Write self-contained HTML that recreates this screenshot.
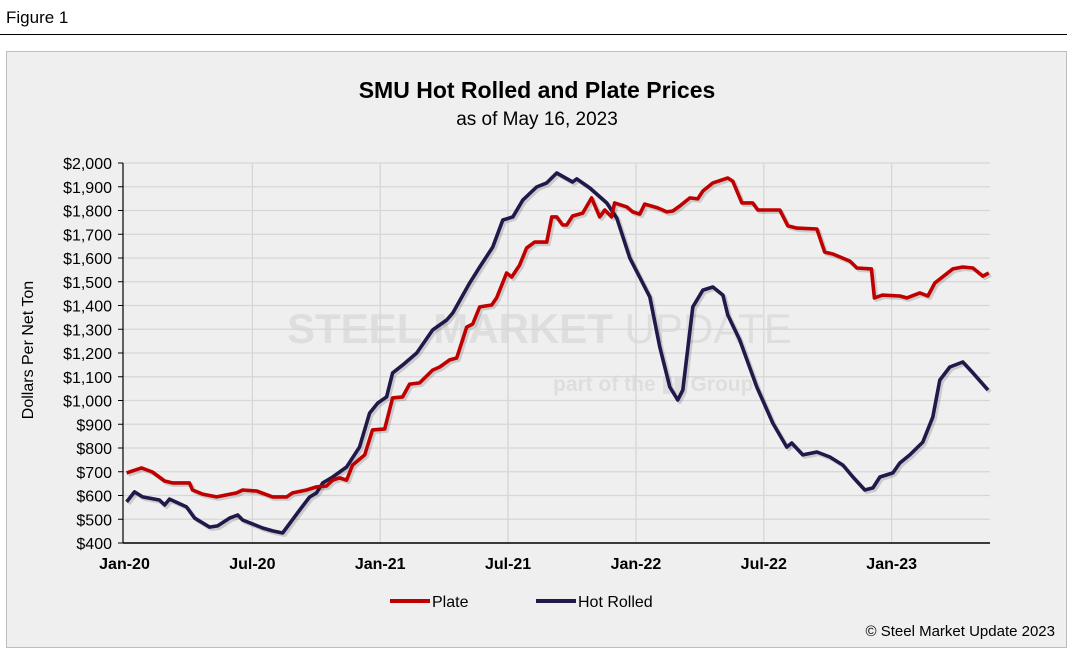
<!DOCTYPE html>
<html><head><meta charset="utf-8"><style>
body{margin:0;width:1073px;height:656px;background:#fff;font-family:"Liberation Sans",Arial,sans-serif;overflow:hidden}
</style></head><body>
<svg width="1073" height="656" xmlns="http://www.w3.org/2000/svg">
<text x="6" y="23" font-size="17" fill="#000">Figure 1</text>
<line x1="0" y1="34.5" x2="1067" y2="34.5" stroke="#000" stroke-width="1"/>
<rect x="6.5" y="51.5" width="1060" height="596" fill="#efefef" stroke="#bdbdbd"/>
<text x="537" y="98" font-size="23" font-weight="bold" text-anchor="middle">SMU Hot Rolled and Plate Prices</text>
<text x="537" y="125" font-size="19" text-anchor="middle">as of May 16, 2023</text>
<g fill="#dedede">
<text x="287" y="343" font-size="42" font-weight="bold">STEEL MARKET <tspan font-weight="normal">UPDATE</tspan></text>
<text x="553" y="391" font-size="21" font-weight="bold">part of the ▮▮ Group</text>
</g>
<g id="grid"></g>
<g id="axes"></g>
<g id="series"></g>
<text transform="translate(33,350) rotate(-90)" font-size="16" text-anchor="middle">Dollars Per Net Ton</text>
<g>
<line x1="390" y1="601" x2="430" y2="601" stroke="#c00000" stroke-width="4"/>
<text x="432" y="607" font-size="16">Plate</text>
<line x1="536" y1="601" x2="576" y2="601" stroke="#1f1a4a" stroke-width="4"/>
<text x="578" y="607" font-size="16">Hot Rolled</text>
</g>
<text x="1055" y="636" font-size="15" text-anchor="end">© Steel Market Update 2023</text>
</svg>
<script>
const yTicks=[400,500,600,700,800,900,1000,1100,1200,1300,1400,1500,1600,1700,1800,1900,2000];
const xTickLabels=["Jan-20","Jul-20","Jan-21","Jul-21","Jan-22","Jul-22","Jan-23"];
const xTickMonths=[0,6,12,18,24,30,36];
const hrMonths=[0.1,0.47,0.85,1.64,1.88,2.11,2.91,3.29,3.99,4.37,4.93,5.31,5.54,6.48,6.95,7.42,8.22,8.69,9.01,9.30,9.77,10.42,11.03,11.50,11.88,12.30,12.58,13.05,13.71,14.46,15.12,15.40,16.20,16.67,17.28,17.75,18.22,18.69,19.34,19.81,20.28,21.03,21.22,21.83,22.63,23.10,23.71,24.65,25.12,25.59,25.96,26.20,26.67,27.14,27.61,28.08,28.31,28.87,29.67,30.42,31.08,31.31,31.83,32.49,33.10,33.71,34.18,34.74,35.12,35.45,36.06,36.38,36.85,37.46,37.93,38.26,38.73,39.34,39.81,40.52];
const hrValues=[573,615,594,581,560,585,552,505,467,472,505,518,497,463,451,442,539,594,611,653,678,720,804,947,989,1015,1116,1149,1200,1297,1339,1368,1495,1562,1646,1760,1773,1844,1899,1916,1958,1920,1933,1895,1832,1768,1600,1436,1225,1057,1002,1044,1394,1465,1478,1444,1360,1255,1057,905,804,821,771,783,762,728,678,623,632,678,695,737,771,825,930,1086,1141,1162,1116,1044];
const plateMonths=[0.1,0.8,1.31,1.88,2.25,3.05,3.19,3.66,4.32,5.26,5.54,6.20,6.95,7.61,7.89,8.54,9.01,9.48,9.77,10.09,10.42,10.70,11.27,11.64,12.21,12.58,13.05,13.38,13.85,14.46,14.79,15.26,15.59,16.06,16.34,16.67,17.23,17.46,17.93,18.17,18.54,18.87,19.25,19.81,20.05,20.28,20.56,20.75,21.03,21.50,21.92,22.30,22.54,22.86,23.00,23.57,23.85,24.18,24.41,25.02,25.45,25.73,26.06,26.53,26.90,27.14,27.61,28.31,28.54,28.97,29.48,29.72,30.75,31.13,31.55,32.49,32.86,33.24,34.04,34.37,35.05,35.19,35.57,36.38,36.71,37.32,37.70,38.03,38.87,39.34,39.81,40.28,40.56];
const plateValues=[695,716,699,661,653,653,623,606,594,611,623,619,594,594,611,623,636,640,665,674,665,728,771,876,880,1011,1015,1069,1074,1128,1141,1171,1179,1309,1322,1394,1402,1432,1537,1520,1570,1642,1667,1667,1773,1773,1739,1739,1777,1789,1853,1773,1802,1773,1832,1815,1794,1785,1827,1811,1794,1798,1819,1853,1849,1882,1916,1937,1924,1832,1832,1802,1802,1735,1726,1722,1625,1617,1587,1558,1554,1432,1444,1440,1432,1453,1440,1495,1554,1562,1558,1524,1537];
const NS="http://www.w3.org/2000/svg";
const L=123,R=990,T=163,B=543;
const xS=m=>124.5+m*21.31;
const yS=v=>B-(v-400)*(B-T)/1600;
function mk(tag,attrs,parent){const e=document.createElementNS(NS,tag);for(const k in attrs)e.setAttribute(k,attrs[k]);document.getElementById(parent).appendChild(e);return e;}
yTicks.forEach(v=>{
 const g=mk('line',{x1:L,x2:R,y1:yS(v),y2:yS(v),stroke:'#d6d6d6','stroke-width':1.3},'grid');
 
 
 const t=mk('line',{x1:L-5,x2:L,y1:yS(v),y2:yS(v),stroke:'#000'},'axes');
 
 
 const tx=mk('text',{x:112,y:yS(v)+6,'font-size':16,'text-anchor':'end'},'axes');
 tx.textContent='$'+v.toLocaleString('en-US');
 
 
});
xTickMonths.forEach((m,i)=>{
 if(i>0){const g=mk('line',{x1:xS(m),x2:xS(m),y1:T,y2:B,stroke:'#d6d6d6','stroke-width':1.3},'grid');
 
 }
 const tx=mk('text',{x:xS(m),y:569,'font-size':16,'font-weight':'bold','text-anchor':'middle'},'axes');
 tx.textContent=xTickLabels[i];
 
 
});
const ya=mk('line',{x1:L,x2:L,y1:T,y2:B,stroke:'#000','stroke-width':1.2},'axes');


const xa=mk('line',{x1:L,x2:R,y1:B,y2:B,stroke:'#000','stroke-width':1.5},'axes');


function line(ms,vs,color,name){
 const d=ms.map((m,i)=>(i?'L':'M')+xS(m).toFixed(1)+','+yS(vs[i]).toFixed(1)).join('');
 const sh=mk('path',{d:d,fill:'none',stroke:'rgba(0,0,0,0.15)','stroke-width':4,transform:'translate(2,2)','stroke-linejoin':'round'},'series');
 
 
 const p=mk('path',{d:d,fill:'none',stroke:color,'stroke-width':3.6,'stroke-linejoin':'round'},'series');
 
 
}
line(hrMonths,hrValues,'#1f1a4a','hot-rolled-line');
line(plateMonths,plateValues,'#c00000','plate-line');
</script>
</body></html>
